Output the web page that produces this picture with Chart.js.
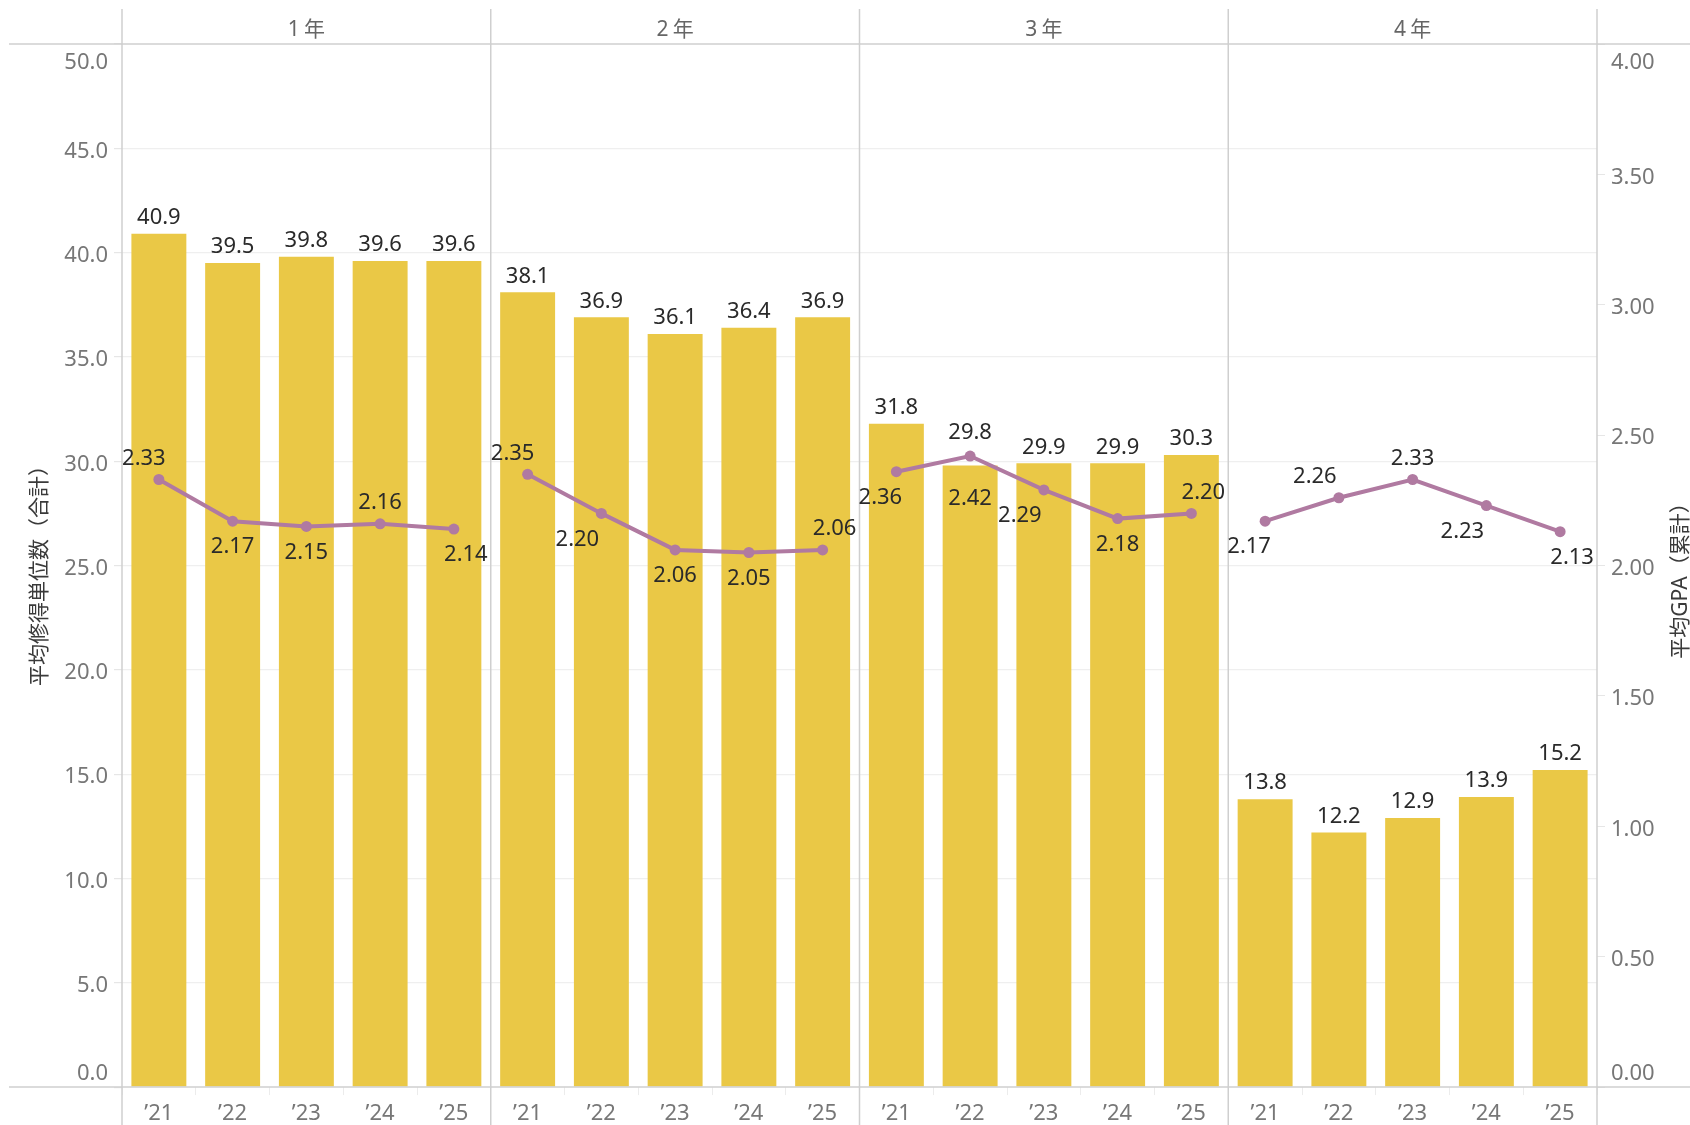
<!DOCTYPE html>
<html><head><meta charset="utf-8">
<script src="https://cdn.jsdelivr.net/npm/chart.js@4"></script>
<style>html,body{margin:0;padding:0;background:#fff;overflow:hidden}</style>
</head><body>
<canvas id="c" width="1690" height="1125"></canvas>
<script>
// ---- data ----
const grades = ['1年', '2年', '3年', '4年'];
const years = ['’21', '’22', '’23', '’24', '’25'];
const credits = [40.9, 39.5, 39.8, 39.6, 39.6,
                 38.1, 36.9, 36.1, 36.4, 36.9,
                 31.8, 29.8, 29.9, 29.9, 30.3,
                 13.8, 12.2, 12.9, 13.9, 15.2];
const gpa = [2.33, 2.17, 2.15, 2.16, 2.14,
             2.35, 2.20, 2.06, 2.05, 2.06,
             2.36, 2.42, 2.29, 2.18, 2.20,
             2.17, 2.26, 2.33, 2.23, 2.13];
const creditTickValues = [0, 5, 10, 15, 20, 25, 30, 35, 40, 45, 50];
const gpaTickValues = [0, 0.5, 1, 1.5, 2, 2.5, 3, 3.5, 4];
const leftTitle = '平均修得単位数（合計）';
const rightTitle = '平均GPA（累計）';
// where each GPA label sits relative to its point
const gpaLabelPlace = ['tl', 'b', 'b', 't', 'br',
                       'tl', 'bL', 'b', 'b', 'tr',
                       'bl', 'bb', 'bL', 'b', 'tr',
                       'bl', 'tL', 't', 'bL', 'br'];
// where each bar label sits (pushed higher where the line would cross it)
const barLabelPlace = ['t', 't', 't', 't', 't',
                       't', 't', 't', 't', 't',
                       't', 'tt', 't', 't', 't',
                       't', 't', 't', 't', 't'];

// ---- styling ----
const FONT = "'Noto Sans', 'Noto Sans CJK JP', sans-serif";
const BAR = '#EAC846';
const LINE = '#B07AA1';
const RULE = '#cfcfcf';
const placeOffsets = {
  t: [0, -21], b: [0, 26], tl: [-15, -21], tL: [-24, -21], tr: [12, -21],
  bl: [-16, 26], bL: [-24, 26], br: [12, 26], bb: [0, 43]
};
const barOffsets = { t: -16, tt: -33 };
const perGroup = years.length;
const labels = [];
grades.forEach(() => years.forEach(y => labels.push(y)));

const decorPlugin = {
  id: 'decor',
  afterDatasetsDraw(chart) {
    const ctx = chart.ctx;
    const ca = chart.chartArea;
    const xs = chart.scales.x;
    ctx.save();
    // frame rules
    ctx.strokeStyle = RULE;
    ctx.lineWidth = 1.5;
    ctx.beginPath();
    ctx.moveTo(9, ca.top); ctx.lineTo(1690, ca.top);
    ctx.moveTo(9, ca.bottom); ctx.lineTo(1690, ca.bottom);
    const vx = [ca.left];
    for (let g = 1; g < grades.length; g++) {
      const a = xs.getPixelForValue(g * perGroup - 1);
      const b = xs.getPixelForValue(g * perGroup);
      vx.push((a + b) / 2);
    }
    vx.push(ca.right);
    vx.forEach(x => { ctx.moveTo(x, 9); ctx.lineTo(x, 1125); });
    ctx.stroke();
    // header labels
    ctx.fillStyle = '#666';
    ctx.font = '21px ' + FONT;
    ctx.textAlign = 'center';
    ctx.textBaseline = 'middle';
    ctx.letterSpacing = '4px';
    grades.forEach((g, i) => {
      ctx.fillText(g, (vx[i] + vx[i + 1]) / 2 + 2, ca.top - 14);
    });
    ctx.letterSpacing = '0px';
    // axis titles
    ctx.fillStyle = '#3a3a3a';
    ctx.font = '21px ' + FONT;
    ctx.save();
    ctx.translate(40, (ca.top + ca.bottom) / 2 + 5);
    ctx.rotate(-Math.PI / 2);
    ctx.fillText(leftTitle, 0, 0);
    ctx.restore();
    ctx.save();
    ctx.translate(1681, (ca.top + ca.bottom) / 2 + 10);
    ctx.rotate(-Math.PI / 2);
    ctx.fillText(rightTitle, 0, 0);
    ctx.restore();
    // bar labels
    ctx.fillStyle = '#2a2a2a';
    ctx.font = '22px ' + FONT;
    const bm = chart.getDatasetMeta(0);
    bm.data.forEach((el, i) => {
      const dy = barOffsets[barLabelPlace[i]] ?? -16;
      ctx.fillText(credits[i].toFixed(1), el.x, el.y + dy);
    });
    // gpa labels
    const lm = chart.getDatasetMeta(1);
    lm.data.forEach((el, i) => {
      const off = placeOffsets[gpaLabelPlace[i]] || [0, -21];
      ctx.fillText(gpa[i].toFixed(2), el.x + off[0], el.y + off[1]);
    });
    ctx.restore();
  }
};

new Chart(document.getElementById('c'), {
  type: 'bar',
  data: {
    labels: labels,
    datasets: [
      {
        type: 'bar', label: leftTitle, data: credits, yAxisID: 'y',
        backgroundColor: BAR, barPercentage: 0.745, categoryPercentage: 1, order: 2
      },
      {
        type: 'line', label: rightTitle, data: gpa, yAxisID: 'y1',
        borderColor: LINE, backgroundColor: LINE, borderWidth: 4,
        pointRadius: 5.5, pointBorderWidth: 0, pointBackgroundColor: LINE,
        tension: 0, order: 1,
        segment: {
          borderColor: c => (c.p0DataIndex % perGroup === perGroup - 1) ? 'rgba(0,0,0,0)' : LINE
        }
      }
    ]
  },
  options: {
    responsive: false,
    animation: false,
    devicePixelRatio: 1,
    layout: { padding: { top: 44, left: 0, right: 0, bottom: 0 } },
    plugins: { legend: { display: false }, tooltip: { enabled: false } },
    scales: {
      x: {
        type: 'category', offset: true,
        border: { display: false },
        grid: { drawOnChartArea: false, drawTicks: true, tickLength: 8, color: '#ececec', offset: true },
        ticks: { color: '#777', font: { family: FONT, size: 22 }, padding: 5, maxRotation: 0, autoSkip: false },
        afterFit: s => { s.height = 36; }
      },
      y: {
        position: 'left', min: 0, max: 50,
        afterBuildTicks: s => { s.ticks = creditTickValues.map(v => ({ value: v })); },
        border: { display: false },
        grid: {
          color: c => (c.tick && (c.tick.value === 0 || c.tick.value === 50)) ? 'rgba(0,0,0,0)' : '#efefef',
          tickColor: '#e6e6e6', tickLength: 8, lineWidth: 1.2
        },
        ticks: {
          color: '#777', padding: 6, autoSkip: false, labelOffset: 3,
          font: { family: FONT, size: 22, lineHeight: 1.45 },
          callback: v => v === 50 ? ['', v.toFixed(1)] : (v === 0 ? [v.toFixed(1), ''] : v.toFixed(1))
        },
        afterFit: s => { s.width = 122; }
      },
      y1: {
        position: 'right', min: 0, max: 4,
        afterBuildTicks: s => { s.ticks = gpaTickValues.map(v => ({ value: v })); },
        border: { display: false },
        grid: { drawOnChartArea: false, tickColor: '#e6e6e6', tickLength: 8 },
        ticks: {
          color: '#777', padding: 6, autoSkip: false, labelOffset: 3,
          font: { family: FONT, size: 22, lineHeight: 1.45 },
          callback: v => v === 4 ? ['', v.toFixed(2)] : (v === 0 ? [v.toFixed(2), ''] : v.toFixed(2))
        },
        afterFit: s => { s.width = 93; }
      }
    }
  },
  plugins: [decorPlugin]
});
</script>
</body></html>
